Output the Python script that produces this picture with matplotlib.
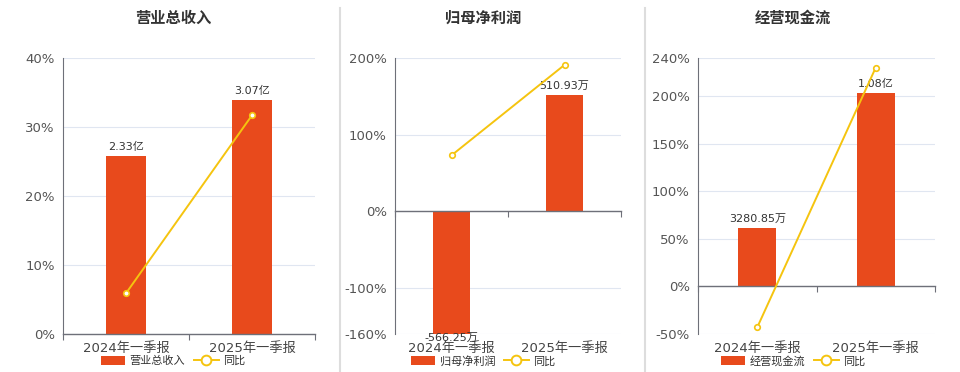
import matplotlib.pyplot as plt
import numpy as np
from matplotlib.patches import Patch
from matplotlib.lines import Line2D

plt.rcParams['font.family'] = ['DejaVu Sans', 'Noto Sans CJK SC']

# data
categories = ['2024年一季报', '2025年一季报']
titles = ['营业总收入', '归母净利润', '经营现金流']
bar_values = [[2.33, 3.07], [-566.25, 510.93], [3280.85, 10800.0]]
bar_labels = [['2.33亿', '3.07亿'], ['-566.25万', '510.93万'], ['3280.85万', '1.08亿']]
yoy_values = [[5.9, 31.7], [73.0, 191.0], [-43.0, 230.0]]
pct_ticks = [[0, 10, 20, 30, 40], [-160, -100, 0, 100, 200], [-50, 0, 50, 100, 150, 200, 240]]
bar_axis = [(0, 3.62), (-160 * 3.36, 200 * 3.36), (-50 * 53.2, 240 * 53.2)]

bar_color = '#E84A1C'
line_color = '#F5C40F'
axis_color = '#6E7079'
grid_color = '#E0E6F1'

fig = plt.figure(figsize=(9.6, 3.72), dpi=100)

# panel positions in pixels: left, right
panels = [(63, 315), (395, 621), (698, 935)]
title_x = [173, 483, 793]
H, W = 372, 960
top_px, bot_px = 58, 334

for i in range(3):
    l, r = panels[i]
    ax = fig.add_axes([l / W, 1 - bot_px / H, (r - l) / W, (bot_px - top_px) / H])
    ax_bar = ax.twinx()
    ax_line = ax.twinx()

    x = np.arange(len(categories))
    lo, hi = pct_ticks[i][0], pct_ticks[i][-1]

    # base axis: grid, ticks, labels
    ax.set_xlim(-0.5, 1.5)
    ax.set_ylim(lo, hi)
    ax.set_yticks(pct_ticks[i])
    ax.set_yticklabels([f'{t}%' for t in pct_ticks[i]])
    ax.tick_params(axis='y', length=0, labelsize=9.5, labelcolor='#555555', pad=6)
    ax.grid(axis='y', color=grid_color, lw=0.8)
    ax.set_xticks(x)
    ax.set_xticklabels(categories)
    ax.tick_params(axis='x', length=0, labelsize=9.5, labelcolor='#444444', pad=6)
    for s in ['top', 'right', 'bottom']:
        ax.spines[s].set_visible(False)
    ax.spines['left'].set_color(axis_color)

    # bars on hidden axis
    bars = ax_bar.bar(x, bar_values[i], width=0.32, color=bar_color)
    ax_bar.set_ylim(*bar_axis[i])
    ax_bar.axis('off')
    for b, txt, v in zip(bars, bar_labels[i], bar_values[i]):
        cx = b.get_x() + b.get_width() / 2
        if v >= 0:
            ax_bar.annotate(txt, (cx, v), xytext=(0, 3), textcoords='offset points',
                            ha='center', va='bottom', fontsize=8, color='#333333',
                            annotation_clip=False)
        else:
            y = max(v, bar_axis[i][0])
            ax_bar.annotate(txt, (cx, y), xytext=(0, 1), textcoords='offset points',
                            ha='center', va='top', fontsize=8, color='#333333',
                            annotation_clip=False)

    # yoy line on top layer, same percent scale
    ax_line.set_ylim(lo, hi)
    ax_line.plot(x, yoy_values[i], color=line_color, lw=1.4, marker='o', ms=4,
                 mfc='white', mec=line_color, mew=1.2, clip_on=False)
    ax_line.set_yticks([])
    for s in ['top', 'right', 'bottom', 'left']:
        ax_line.spines[s].set_visible(False)

    # zero line with boundary ticks
    frac = (0 - lo) / (hi - lo)
    sec = ax_line.secondary_xaxis(frac)
    sec.set_xticks([-0.5, 0.5, 1.5])
    sec.set_xticklabels([])
    sec.tick_params(axis='x', length=4, color=axis_color, width=0.8)
    sec.spines['bottom'].set_color(axis_color)
    sec.spines['bottom'].set_linewidth(1.0)

    fig.text(title_x[i] / W, 1 - 18 / H, titles[i], ha='center', va='center',
             fontsize=11, fontweight='bold', color='#333333')

    handles = [Patch(facecolor=bar_color, edgecolor='none', label=titles[i]),
               Line2D([0], [0], color=line_color, lw=1.4, marker='o', ms=7,
                      mfc='white', mec=line_color, mew=1.4, label='同比')]
    fig.legend(handles=handles, loc='center', ncol=2, frameon=False,
               bbox_to_anchor=(title_x[i] / W, 1 - 361 / H), fontsize=8,
               handlelength=2.2, handleheight=0.9, columnspacing=0.8,
               handletextpad=0.4, labelcolor='#333333')

# dividers between panels
for xd in [340, 645]:
    fig.add_artist(Line2D([xd / W, xd / W], [0, 1 - 8 / H], color='#DDDDDD', lw=1.5))

fig.savefig('out.png', dpi=100)
